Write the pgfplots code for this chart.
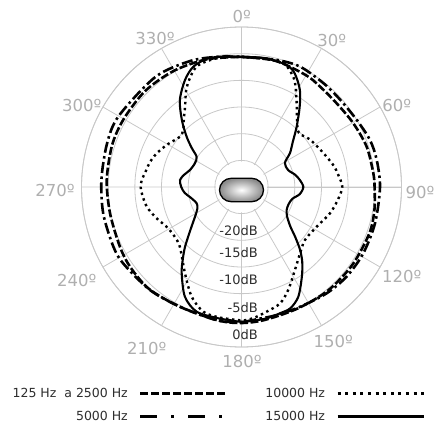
\documentclass[border=0pt]{standalone}
\usepackage{fontspec}
\setmainfont{DejaVu Sans}
\usepackage{pgfplots}
\pgfplotsset{compat=1.18}
\usepgfplotslibrary{polar}
\definecolor{gridgray}{RGB}{200,200,200}
\definecolor{labgray}{RGB}{175,175,175}
\definecolor{txt}{RGB}{45,45,45}
\begin{document}
\begin{tikzpicture}
\path[use as bounding box] (0,0) rectangle (436bp,428bp);
\begin{polaraxis}[
  at={(241.5bp,241bp)}, anchor=center,
  scale only axis, width=320bp, height=320bp,
  xmin=0, xmax=360, ymin=0, ymax=30,
  xtick={0,30,...,330}, xticklabels={},
  ytick={5,10,...,30}, yticklabels={},
  grid=major,
  major grid style={draw=gridgray, line width=0.8bp},
  axis line style={draw=gridgray, line width=0.8bp},
  major tick length=0pt,
  x filter/.expression={90-x},
  y filter/.expression={y+25},
  clip=false,
  legend columns=2, legend cell align=right, legend plot pos=right,
  legend image code/.code={\draw[#1] (0bp,0bp) -- (86bp,0bp);},
  legend style={draw=none, fill=none, inner sep=0pt,
    at={(-0.222,-0.122)}, anchor=north west,
    font=\fontsize{12.5bp}{14bp}\selectfont, text=txt, row sep=8bp,
    /tikz/every odd column/.append style={column sep=9bp},
    /tikz/every even column/.append style={column sep=36bp}},
]
% 125 Hz a 2500 Hz (dashed)
\addplot[forget plot, black, line width=2.6bp, dash pattern=on 8bp off 2.5bp, smooth, tension=0.5] coordinates {
(0,-0.6)(15,-0.5)(30,-0.8)(38,-1.1)(48.7,-1.24)(60.3,-0.87)(72.2,-0.34)(84,-0.15)(90,-0.05)(100,0.3)(110,0.5)(125,0.4)(140,0.3)(155,0.1)(170,0.3)(180,0.5)(190,0.4)(207,0.25)(222,0.8)(234,0.7)(243.8,0.4)(258.7,0.14)(273,0.3)(288,0.5)(300,0.5)(315,0.5)(330,0.2)(345,-0.2)(360,-0.6)};
% 5000 Hz (dash-dot)
\addplot[forget plot, black, line width=2.6bp, dash pattern=on 11bp off 3.5bp on 2.5bp off 3.5bp, smooth, tension=0.5] coordinates {
(0,-0.6)(15,-0.3)(25.9,0.1)(38.3,-0.2)(48.5,-0.3)(59.8,0)(69.9,0.65)(78.7,0.86)(90,0.97)(105,0.94)(118.6,1.0)(130.4,0.9)(141.3,0.54)(153.9,0)(165,-0.1)(172,-0.1)(180,0.3)(190.6,0.4)(207.2,0.24)(221.6,0.84)(237,1.4)(245,1.5)(259,1.4)(273,1.3)(288,1.5)(300,1.6)(322,1.2)(338,0.5)(350,-0.2)(360,-0.6)};
% 10000 Hz (dotted)
\addplot[forget plot, black, line width=2.4bp, dash pattern=on 2.4bp off 3.6bp, smooth, tension=0.5] coordinates {
(0,-0.6)(10,-0.5)(18.7,-0.5)(24,-1.8)(27.3,-3.1)(33.4,-6.2)(40,-8.8)(46.6,-10.2)(55,-9.4)(63,-8.8)(71,-8.0)(77.5,-7.2)(83,-6.7)(90,-6.1)(97.8,-6.8)(106.6,-7.7)(117.8,-9.05)(129.8,-9.5)(138.6,-8.4)(147.2,-6.5)(155.6,-3.8)(161.7,-2.0)(168.6,-1.15)(175,-0.3)(180,0)(190,-0.2)(197,-0.55)(204.4,-2.4)(213.2,-5.65)(225.9,-8.9)(234,-9.4)(242,-9.1)(250,-8.0)(258.3,-6.85)(266,-6.3)(270,-6.1)(274,-6.25)(278.1,-6.7)(285,-7.2)(291.7,-7.9)(300,-9.0)(309.3,-10.1)(314.4,-9.7)(320,-8.2)(324.9,-6.6)(331.4,-3.6)(339.6,-0.9)(350,-0.4)(360,-0.6)};
% 15000 Hz (solid)
\addplot[forget plot, black, line width=2.1bp, smooth, tension=0.5] coordinates {
(0,-0.6)(10,-0.45)(20,-0.6)(25,-1.45)(31,-3.75)(36,-6.45)(42.5,-9.7)(49,-12.3)(55,-13.9)(61,-15.7)(70,-15.7)(77,-14.7)(83,-14.0)(90,-13.4)(97,-14.0)(103,-15.2)(110,-15.6)(117,-15.5)(123,-14.8)(129,-13.2)(133,-11.2)(137,-8.9)(141,-6.9)(146,-4.75)(152.6,-1.84)(158,-0.5)(163,-0.25)(170,0.1)(180,0.25)(185,0.05)(190,0)(199.8,-0.15)(207.3,-1.86)(214.7,-5.3)(219,-7.5)(223.4,-9.6)(230,-12.5)(237.4,-14.65)(244,-15.8)(250,-16.05)(258,-15.3)(264,-14.3)(270,-13.7)(276.5,-13.4)(282,-14.0)(288,-14.8)(297,-15.2)(304,-14.85)(308,-13.2)(312.5,-11.05)(318.3,-8.2)(324.7,-5.0)(332.2,-2.3)(338.2,-0.7)(345,-0.1)(352,-0.3)(360,-0.6)};
\addlegendimage{black, line width=2.6bp, dash pattern=on 8bp off 3bp}
\addlegendentry{125 Hz\hspace{4bp} a 2500 Hz}
\addlegendimage{black, line width=2.6bp, dash pattern=on 3bp off 4.6bp}
\addlegendentry{10000 Hz}
\addlegendimage{black, line width=2.6bp, dash pattern=on 17bp off 14bp on 3bp off 14bp}
\addlegendentry{5000 Hz}
\addlegendimage{black, line width=3bp}
\addlegendentry{15000 Hz}
\end{polaraxis}
\fill[white] (241.5bp,241bp) circle (25.5bp);
\shade[inner color=white, outer color=black!45, rounded corners=11.7bp] (219.5bp,226.3bp) rectangle (263.5bp,249.7bp);
\draw[black, line width=1.3bp, rounded corners=11.7bp] (219.5bp,226.3bp) rectangle (263.5bp,249.7bp);
\begin{scope}[every node/.style={text=labgray, font=\fontsize{16.5bp}{18bp}\selectfont, inner sep=0pt}]
\node at (241.7bp,411.3bp) {0º};
\node at (331.7bp,388bp) {30º};
\node at (396.7bp,323bp) {60º};
\node at (420bp,236bp) {90º};
\node at (401.7bp,151.3bp) {120º};
\node at (333.3bp,86.3bp) {150º};
\node at (242bp,67bp) {180º};
\node at (146.7bp,79.7bp) {210º};
\node at (76.7bp,148bp) {240º};
\node at (55bp,238bp) {270º};
\node at (81.7bp,323bp) {300º};
\node at (155bp,389.7bp) {330º};
\end{scope}
\begin{scope}[every node/.style={text=txt, font=\fontsize{13bp}{15bp}\selectfont, inner sep=0pt, anchor=east}]
\node at (258bp,197bp) {-20dB};
\node at (258bp,175bp) {-15dB};
\node at (258bp,148bp) {-10dB};
\node at (258bp,120.5bp) {-5dB};
\node at (258bp,93bp) {0dB};
\end{scope}
\end{tikzpicture}
\end{document}
